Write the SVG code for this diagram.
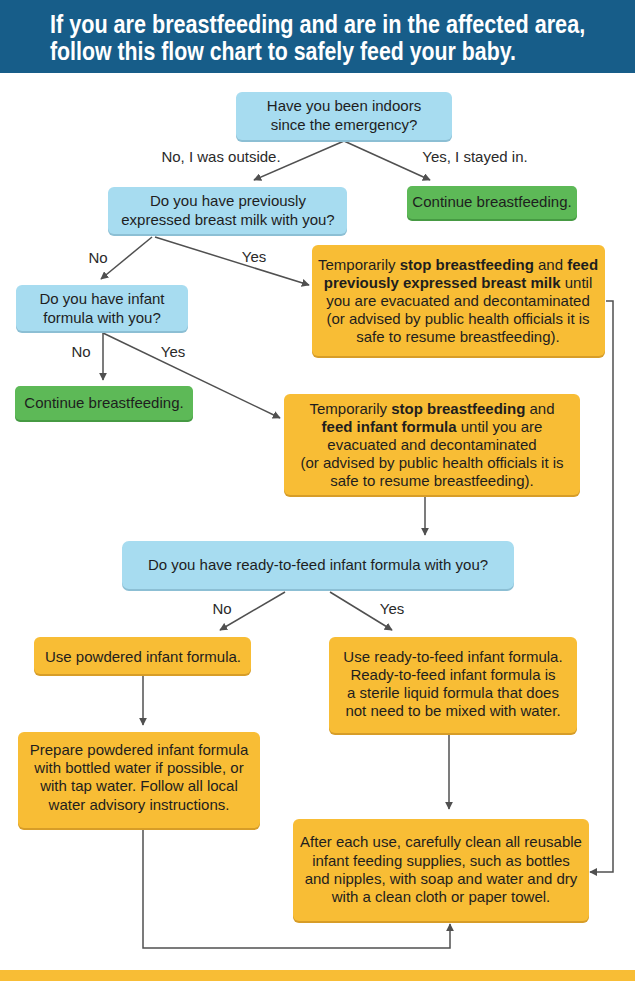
<svg xmlns="http://www.w3.org/2000/svg" width="635" height="981" viewBox="0 0 635 981">
<defs>
<style>
.t{font-family:"Liberation Sans",Arial,sans-serif;font-size:15px;fill:#1e1e1e;text-anchor:middle}
.b{font-weight:bold}
.lbl{font-family:"Liberation Sans",Arial,sans-serif;font-size:15px;fill:#2a2a2a;text-anchor:middle}
.blue{fill:#a7dcf0}
.blueS{fill:#8cbfd4}
.green{fill:#5db957}
.greenS{fill:#469a43}
.org{fill:#f8bd35}
.orgS{fill:#d79d28}
.c{fill:none;stroke:#505050;stroke-width:1.5}
.title{font-family:"Liberation Sans",Arial,sans-serif;font-weight:bold;font-size:25px;fill:#ffffff}
</style>
<marker id="ah" viewBox="0 0 10 10" refX="9" refY="5" markerWidth="8" markerHeight="8" markerUnits="userSpaceOnUse" orient="auto">
<path d="M0,0 L10,5 L0,10 z" fill="#505050"/>
</marker>
</defs>
<rect width="635" height="981" fill="#ffffff"/>
<g id="header">
<rect x="0" y="0" width="635" height="73" fill="#175d89"/>
<g transform="translate(50,0) scale(0.77,1)">
<text class="title" x="0" y="33" textLength="695" lengthAdjust="spacingAndGlyphs">If you are breastfeeding and are in the affected area,</text>
<text class="title" x="0" y="60" textLength="605" lengthAdjust="spacingAndGlyphs">follow this flow chart to safely feed your baby.</text>
</g>
</g>
<rect x="0" y="970" width="635" height="11" fill="#f8bd35"/>

<g id="connectors">
<line class="c" x1="344" y1="141" x2="254" y2="180" marker-end="url(#ah)"/>
<line class="c" x1="344" y1="141" x2="430" y2="180" marker-end="url(#ah)"/>
<line class="c" x1="152" y1="237" x2="101" y2="279" marker-end="url(#ah)"/>
<line class="c" x1="155" y1="237" x2="309" y2="285" marker-end="url(#ah)"/>
<line class="c" x1="103" y1="333" x2="103" y2="380" marker-end="url(#ah)"/>
<line class="c" x1="103" y1="333" x2="280" y2="418" marker-end="url(#ah)"/>
<polyline class="c" points="606,301 613,301 613,872 590,872" marker-end="url(#ah)"/>
<line class="c" x1="425" y1="496" x2="425" y2="535" marker-end="url(#ah)"/>
<line class="c" x1="285" y1="592" x2="220" y2="630" marker-end="url(#ah)"/>
<line class="c" x1="330" y1="592" x2="392" y2="630" marker-end="url(#ah)"/>
<line class="c" x1="143" y1="676" x2="143" y2="725" marker-end="url(#ah)"/>
<line class="c" x1="449" y1="735" x2="449" y2="809" marker-end="url(#ah)"/>
<polyline class="c" points="143,830 143,948 450,948 450,924" marker-end="url(#ah)"/>
<text class="lbl" x="221" y="162">No, I was outside.</text>
<text class="lbl" x="475" y="162">Yes, I stayed in.</text>
<text class="lbl" x="98" y="263">No</text>
<text class="lbl" x="254" y="262">Yes</text>
<text class="lbl" x="81" y="357">No</text>
<text class="lbl" x="173" y="357">Yes</text>
<text class="lbl" x="222" y="614">No</text>
<text class="lbl" x="392" y="614">Yes</text>
</g>

<g id="q1">
<rect class="blueS" x="236" y="94" width="216" height="48" rx="6"/>
<rect class="blue" x="236" y="92" width="216" height="48" rx="6"/>
<text class="t" x="344" y="111">Have you been indoors</text>
<text class="t" x="344" y="130">since the emergency?</text>
</g>
<g id="continue1">
<rect class="greenS" x="407" y="188" width="170" height="33" rx="5"/>
<rect class="green" x="407" y="186" width="170" height="33" rx="5"/>
<text class="t" x="492" y="207">Continue breastfeeding.</text>
</g>
<g id="q2">
<rect class="blueS" x="108" y="189" width="239" height="47" rx="6"/>
<rect class="blue" x="108" y="187" width="239" height="47" rx="6"/>
<text class="t" x="228" y="206">Do you have previously</text>
<text class="t" x="228" y="225">expressed breast milk with you?</text>
</g>
<g id="stopMilk">
<rect class="orgS" x="312" y="247" width="293" height="111" rx="6"/>
<rect class="org" x="312" y="245" width="293" height="111" rx="6"/>
<text class="t" x="458" y="270">Temporarily <tspan class="b">stop breastfeeding</tspan> and <tspan class="b">feed</tspan></text>
<text class="t" x="458" y="288"><tspan class="b">previously expressed breast milk</tspan> until</text>
<text class="t" x="458" y="306">you are evacuated and decontaminated</text>
<text class="t" x="458" y="324">(or advised by public health officials it is</text>
<text class="t" x="458" y="342">safe to resume breastfeeding).</text>
</g>
<g id="q3">
<rect class="blueS" x="16" y="287" width="172" height="46" rx="6"/>
<rect class="blue" x="16" y="285" width="172" height="46" rx="6"/>
<text class="t" x="102" y="304">Do you have infant</text>
<text class="t" x="102" y="323">formula with you?</text>
</g>
<g id="continue2">
<rect class="greenS" x="15" y="388" width="178" height="34" rx="5"/>
<rect class="green" x="15" y="386" width="178" height="34" rx="5"/>
<text class="t" x="104" y="408">Continue breastfeeding.</text>
</g>
<g id="stopFormula">
<rect class="orgS" x="284" y="396" width="296" height="101" rx="6"/>
<rect class="org" x="284" y="394" width="296" height="101" rx="6"/>
<text class="t" x="432" y="414">Temporarily <tspan class="b">stop breastfeeding</tspan> and</text>
<text class="t" x="432" y="432"><tspan class="b">feed infant formula</tspan> until you are</text>
<text class="t" x="432" y="450">evacuated and decontaminated</text>
<text class="t" x="432" y="468">(or advised by public health officials it is</text>
<text class="t" x="432" y="486">safe to resume breastfeeding).</text>
</g>
<g id="q4">
<rect class="blueS" x="122" y="543" width="392" height="48" rx="7"/>
<rect class="blue" x="122" y="541" width="392" height="48" rx="7"/>
<text class="t" x="318" y="570">Do you have ready-to-feed infant formula with you?</text>
</g>
<g id="powdered">
<rect class="orgS" x="34" y="639" width="217" height="37" rx="6"/>
<rect class="org" x="34" y="637" width="217" height="37" rx="6"/>
<text class="t" x="143" y="662">Use powdered infant formula.</text>
</g>
<g id="readyToFeed">
<rect class="orgS" x="329" y="639" width="248" height="96" rx="6"/>
<rect class="org" x="329" y="637" width="248" height="96" rx="6"/>
<text class="t" x="453" y="662">Use ready-to-feed infant formula.</text>
<text class="t" x="453" y="680">Ready-to-feed infant formula is</text>
<text class="t" x="453" y="698">a sterile liquid formula that does</text>
<text class="t" x="453" y="716">not need to be mixed with water.</text>
</g>
<g id="prepare">
<rect class="orgS" x="18" y="734" width="242" height="96" rx="6"/>
<rect class="org" x="18" y="732" width="242" height="96" rx="6"/>
<text class="t" x="139" y="755">Prepare powdered infant formula</text>
<text class="t" x="139" y="773">with bottled water if possible, or</text>
<text class="t" x="139" y="791">with tap water. Follow all local</text>
<text class="t" x="139" y="810">water advisory instructions.</text>
</g>
<g id="clean">
<rect class="orgS" x="293" y="821" width="296" height="102" rx="6"/>
<rect class="org" x="293" y="819" width="296" height="102" rx="6"/>
<text class="t" x="441" y="847">After each use, carefully clean all reusable</text>
<text class="t" x="441" y="866">infant feeding supplies, such as bottles</text>
<text class="t" x="441" y="884">and nipples, with soap and water and dry</text>
<text class="t" x="441" y="902">with a clean cloth or paper towel.</text>
</g>
</svg>
